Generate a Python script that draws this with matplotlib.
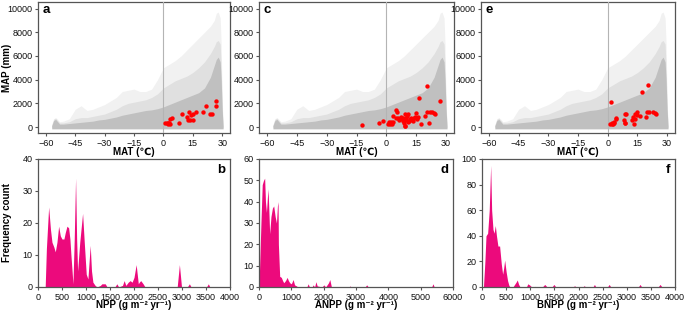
import matplotlib
matplotlib.use('Agg')
import matplotlib.pyplot as plt

# climate space envelope: MAT and MAP top of the dense / medium / sparse parts of the cloud
ENV_MAT = [-57, -56, -55, -54, -53, -51, -48, -45, -42, -39, -36, -33, -30, -27, -24, -21, -18, -15,
           -12, -9, -6, -3, 0, 3, 6, 9, 12, 15, 18, 21, 24, 26, 27, 28, 29, 29.5, 30, 30.5]
ENV_DENSE = [100, 550, 650, 450, 250, 250, 300, 350, 400, 450, 500, 600, 650, 750, 850, 1000, 1100, 1200,
             1300, 1400, 1450, 1550, 1700, 1900, 2100, 2300, 2500, 2700, 2900, 3300, 4200, 5200, 5700, 5900,
             5500, 4000, 1500, 0]
ENV_MEDIUM = [150, 650, 750, 550, 350, 350, 450, 700, 800, 800, 900, 1000, 1100, 1300, 1500, 1800, 2000,
              2100, 2200, 2300, 2500, 2800, 3300, 3600, 3900, 4100, 4300, 4600, 5000, 5500, 6200, 6800, 7200,
              7300, 7000, 5000, 2000, 0]
ENV_SPARSE = [200, 700, 800, 650, 450, 500, 700, 1500, 1800, 1400, 1500, 1700, 1900, 2200, 2500, 3000, 3100,
              3200, 3000, 3000, 3200, 4000, 5000, 5300, 5600, 6000, 6500, 7000, 7500, 8000, 8500, 9000, 9600,
              9700, 9200, 7000, 2500, 0]

# sites
NPP_MAT = [0.9, 1.6, 2.2, 2.9, 2.6, 3.3, 3.6, 4.3, 8.1, 9.5, 11.9, 12.4, 13.3, 13.6, 14.3, 15.0, 15.3,
           16.7, 20.2, 21.9, 24.0, 24.7, 26.7, 27.1]
NPP_MAP = [308, 361, 308, 361, 250, 250, 694, 750, 308, 1083, 861, 638, 1250, 638, 1028, 638, 1138,
           1250, 1305, 1805, 1138, 1138, 2194, 1805]

ANPP_MAT = [-12.0, -3.9, -1.5, 1.0, 1.5, 2.0, 2.5, 3.0, 3.5, 2.2, 3.2, 4.6, 5.6, 6.0, 7.5, 8.2, 8.9, 9.2,
            9.4, 9.4, 10.1, 10.8, 11.1, 12.5, 13.1, 13.5, 14.2, 14.8, 15.2, 15.9, 16.2, 17.5, 19.6, 20.6,
            20.6, 21.6, 22.0, 23.0, 24.0, 24.7, 27.1, 7.0, 8.5, 9.8, 10.5, 12.0, 6.5, 5.0, 11.5, 13.8]
ANPP_MAP = [200, 361, 527, 300, 420, 250, 360, 280, 400, 450, 972, 1472, 1305, 805, 861, 527, 305, 83,
            50, 1083, 750, 1083, 416, 750, 638, 527, 861, 1194, 694, 861, 2470, 250, 916, 1305,
            3470, 305, 1305, 1305, 1194, 1138, 2194, 700, 800, 600, 900, 700, 600, 750, 550, 800]

BNPP_MAT = [1.7, 1.4, 2.0, 2.6, 3.4, 2.3, 3.0, 4.1, 4.4, 8.2, 8.5, 8.9, 9.2, 8.9, 12.3, 12.6, 13.3, 13.6,
            14.0, 14.7, 15.0, 16.4, 17.4, 19.4, 19.8, 20.4, 21.1, 22.8, 23.9, 24.5]
BNPP_MAP = [2083, 300, 361, 300, 361, 250, 450, 694, 750, 638, 361, 1083, 1138, 305, 583, 861, 250, 1138,
            694, 1028, 1250, 916, 2970, 861, 1305, 3530, 1305, 1305, 1194, 1138]

# frequency curves
NPP_X = [150, 175, 222, 260, 291, 330, 360, 395, 430, 465, 499, 540, 568, 603, 638, 665, 686, 710, 728,
         755, 783, 805, 825, 870, 929, 960, 1005, 1040, 1088, 1115, 1144, 1190, 1230, 1300, 1331, 1400,
         1440, 1600, 1643, 1680, 1760, 1795, 1830, 1880, 1920, 1960, 2000, 2045, 2090, 2110, 2140, 2190,
         2230, 2900, 2946, 2990, 3110, 3154, 3190, 3510, 3549, 3580]
NPP_N = [0, 12, 25, 18, 14, 12.5, 11, 14, 19, 16, 15, 15, 17, 19, 18.5, 15, 10, 5, 1,
         15, 34, 15, 5, 14, 23, 15, 4, 2.5, 13, 5, 1.5, 0.5, 0, 0.5, 1, 1,
         0, 0, 1, 0, 0.5, 2, 0.5, 1.5, 2, 1.5, 3, 7, 1, 1.5, 2, 1,
         0, 0, 7, 0, 0, 1, 0, 0, 1, 0]

ANPP_X = [0, 10, 60, 100, 140, 175, 200, 230, 260, 280, 300, 330, 370, 415, 455, 500, 540, 570, 590,
          600, 640, 690, 730, 765, 820, 870, 910, 950, 1000, 1055, 1100, 1160, 1200, 1480, 1520, 1560,
          1640, 1675, 1720, 1760, 1800, 1950, 2005, 2060, 2150, 2190, 2240, 2780, 2810, 2850, 3280, 3330,
          3380, 5340, 5380, 5420]
ANPP_N = [0, 5, 30, 48, 50, 51, 40, 35, 42, 46, 38, 25, 33, 37, 38, 33, 30, 38, 40,
          20, 5, 4.5, 3, 2, 3, 4.5, 3, 2, 1.5, 3.5, 1, 0.5, 0, 0, 1.5, 0,
          0, 1, 0, 2.5, 0.5, 0, 1, 0, 2, 3.5, 0, 0, 0.5, 0, 0, 1,
          0, 0, 1.5, 0]

BNPP_X = [30, 60, 83, 117, 150, 180, 200, 228, 250, 276, 300, 330, 365, 400, 428, 450, 470, 500, 530,
          560, 585, 640, 675, 710, 730, 760, 790, 920, 950, 990, 1030, 1080, 1100, 1130, 1250, 1300, 1350,
          1450, 1490, 1530, 1890, 1917, 1950, 2090, 2117, 2150, 2300, 2330, 2360, 2600, 2635, 2670, 3240,
          3275, 3310, 3650, 3690, 3730]
BNPP_N = [0, 20, 40, 42, 60, 95, 60, 45, 42, 48, 40, 32, 32, 18, 10, 15, 21, 12, 5,
          1, 0, 0, 2, 4, 5.5, 2, 0, 0, 2.5, 1.5, 0, 0, 0.5, 0, 0, 2, 0,
          0, 2, 0, 0, 1, 0, 0, 1, 0, 0, 2, 0, 0, 2, 0, 0,
          2, 0, 0, 2, 0]

PINK = '#EC0A7C'
FRAME = '#555555'
FAMILY = ['Liberation Sans', 'DejaVu Sans']

plt.rcParams['font.family'] = FAMILY
plt.rcParams['font.size'] = 6.5
plt.rcParams['axes.edgecolor'] = FRAME
plt.rcParams['axes.linewidth'] = 0.9
plt.rcParams['xtick.color'] = FRAME
plt.rcParams['ytick.color'] = FRAME
plt.rcParams['xtick.labelcolor'] = '#111111'
plt.rcParams['ytick.labelcolor'] = '#111111'
plt.rcParams['xtick.major.size'] = 2.5
plt.rcParams['ytick.major.size'] = 2.5
plt.rcParams['xtick.major.pad'] = 1.5
plt.rcParams['ytick.major.pad'] = 1.5

fig = plt.figure(figsize=(6.85, 3.14), dpi=100)

W, H = 685.0, 314.0


def make_ax(x0, x1, y0, y1):
    return fig.add_axes([x0 / W, 1 - y1 / H, (x1 - x0) / W, (y1 - y0) / H])


top = [(38, 230, 'a', NPP_MAT, NPP_MAP), (259, 454, 'c', ANPP_MAT, ANPP_MAP), (481, 675, 'e', BNPP_MAT, BNPP_MAP)]
for x0, x1, letter, mat, mp in top:
    ax = make_ax(x0, x1, 2, 133)
    ax.fill_between(ENV_MAT, 0, ENV_SPARSE, color='#f1f1f1', lw=0, zorder=1)
    ax.fill_between(ENV_MAT, 0, ENV_MEDIUM, color='#e0e0e0', lw=0, zorder=1)
    ax.fill_between(ENV_MAT, -150, ENV_DENSE, color='#c0c0c0', lw=0, zorder=2)
    ax.axvline(0, color='#b4b4b4', lw=0.8, zorder=3)
    ax.scatter(mat, mp, s=10, c='#ff0000', lw=0, zorder=4)
    ax.set_xlim(-64, 34)
    ax.set_ylim(-500, 10550)
    ax.set_xticks([-60, -45, -30, -15, 0, 15, 30])
    ax.set_yticks([0, 2000, 4000, 6000, 8000, 10000])
    ax.set_xlabel('MAT (\u2103)', fontweight='bold', fontsize=7)
    ax.xaxis.set_label_coords(0.5, -0.105)
    ax.text(0.025, 0.985, letter, transform=ax.transAxes, fontweight='bold', fontsize=9.5, va='top', ha='left')
    if letter == 'a':
        ax.set_ylabel('MAP (mm)', fontweight='bold', fontsize=7)
        ax.yaxis.set_label_coords(-0.135, 0.5)

bottom = [(38, 230, 'b', NPP_X, NPP_N, 4000, 500, 40, 10, 'NPP'),
          (259, 453, 'd', ANPP_X, ANPP_N, 6000, 1000, 60, 10, 'ANPP'),
          (482, 675, 'f', BNPP_X, BNPP_N, 4000, 500, 100, 20, 'BNPP')]
for x0, x1, letter, xs, ns, xmax, xstep, ymax, ystep, name in bottom:
    ax = make_ax(x0, x1, 159, 287)
    ax.fill_between(xs, 0, ns, color=PINK, lw=0)
    ax.set_xlim(0, xmax)
    ax.set_ylim(0, ymax)
    ax.set_xticks(range(0, xmax + 1, xstep))
    ax.set_yticks(range(0, ymax + 1, ystep))
    ax.set_xlabel(name + ' (g m\u207b\u00b2 yr\u207b\u00b9)', fontweight='bold', fontsize=7)
    ax.xaxis.set_label_coords(0.5, -0.1)
    ax.text(0.975, 0.96, letter, transform=ax.transAxes, fontweight='bold', fontsize=9.5, va='top', ha='right')
    if letter == 'b':
        ax.set_ylabel('Frequency count', fontweight='bold', fontsize=7)
        ax.yaxis.set_label_coords(-0.135, 0.5)

fig.savefig('out.png', dpi=100)
